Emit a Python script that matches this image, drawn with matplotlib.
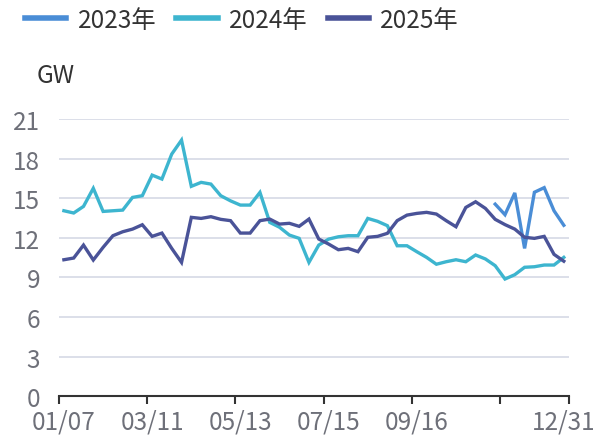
import matplotlib
matplotlib.use("Agg")
import matplotlib.pyplot as plt

plt.rcParams['font.family'] = ['Noto Sans CJK SC', 'DejaVu Sans']

# Категории (недели)
weeks = ['01/07', '01/14', '01/21', '01/28', '02/04', '02/11', '02/18', '02/25',
         '03/04', '03/11', '03/18', '03/25', '04/01', '04/08', '04/15', '04/22',
         '04/29', '05/06', '05/13', '05/20', '05/27', '06/03', '06/10', '06/17',
         '06/24', '07/01', '07/08', '07/15', '07/22', '07/29', '08/05', '08/12',
         '08/19', '08/26', '09/02', '09/09', '09/16', '09/23', '09/30', '10/07',
         '10/14', '10/21', '10/28', '11/04', '11/11', '11/18', '11/25', '12/02',
         '12/09', '12/16', '12/23', '12/31']

# 2023 - только последние недели
y2023 = [None] * 44 + [14.55, 13.75, 15.4, 11.2, 15.45, 15.8, 14.05, 12.95]

y2024 = [14.05, 13.88, 14.38, 15.75, 14.0, 14.05, 14.1, 15.06, 15.19, 16.75,
         16.45, 18.34, 19.4, 15.9, 16.2, 16.07, 15.19, 14.8, 14.48, 14.48,
         15.44, 13.17, 12.8, 12.21, 11.96, 10.14, 11.45, 11.9, 12.08, 12.16,
         12.16, 13.47, 13.25, 12.92, 11.4, 11.4, 10.95, 10.52, 10.0, 10.19,
         10.34, 10.19, 10.7, 10.4, 9.89, 8.88, 9.21, 9.77, 9.81, 9.94,
         9.94, 10.52]

y2025 = [10.34, 10.47, 11.45, 10.32, 11.28, 12.16, 12.46, 12.66, 12.99, 12.11,
         12.36, 11.2, 10.14, 13.55, 13.47, 13.6, 13.4, 13.3, 12.36, 12.36,
         13.3, 13.42, 13.04, 13.1, 12.87, 13.42, 11.91, 11.53, 11.1, 11.2,
         10.95, 12.04, 12.11, 12.34, 13.3, 13.72, 13.85, 13.93, 13.8, 13.3,
         12.84, 14.3, 14.73, 14.23, 13.4, 13.0, 12.66, 12.04, 11.96, 12.11,
         10.75, 10.23]

series_names = ['2023年', '2024年', '2025年']
colors = ['#4a8dd6', '#3db5cf', '#4a5398']
shown_labels = [0, 9, 18, 27, 36, 51]
y_ticks = [0, 3, 6, 9, 12, 15, 18, 21]

fig = plt.figure(figsize=(6.02, 4.39), dpi=100)
ax = fig.add_axes([0.098, 0.095, 0.8467, 0.6317])

x = list(range(len(weeks)))
for name, vals, c in zip(series_names, [y2023, y2024, y2025], colors):
    xs = [i for i, v in zip(x, vals) if v is not None]
    vs = [v for v in vals if v is not None]
    ax.plot(xs, vs, color=c, lw=2.4, label=name, solid_joinstyle='miter')

ax.set_xlim(-0.5, len(weeks) - 0.5)
ax.set_ylim(0, 21)

# сетка
ax.set_yticks(y_ticks)
for t in y_ticks[1:]:
    ax.axhline(t, color='#d6d9e5', lw=1.2, zorder=0)

ax.tick_params(axis='y', length=0, pad=13.5, labelsize=17.5, labelcolor='#6e7079')

ax.set_xticks(shown_labels)
ax.set_xticklabels([weeks[i] for i in shown_labels])
ax.tick_params(axis='x', which='major', length=0, pad=9, labelsize=17.5,
               labelcolor='#6e7079')
ax.set_xticks([b - 0.5 for b in [0, 9, 18, 27, 36, 45, 52]], minor=True)
ax.tick_params(axis='x', which='minor', length=6, width=1.5, color='#333333',
               direction='out')

for s in ['top', 'right', 'left']:
    ax.spines[s].set_visible(False)
ax.spines['bottom'].set_color('#333333')
ax.spines['bottom'].set_linewidth(1.5)

fig.text(37 / 602, 1 - 76 / 439, 'GW', ha='left', va='center', fontsize=17.5,
         color='#333333')

leg = fig.legend(loc='center left', bbox_to_anchor=(25 / 602, 1 - 21 / 439),
                 ncol=3, frameon=False, fontsize=17.5, handlelength=1.7,
                 handletextpad=0.46, columnspacing=0.83, borderpad=0,
                 borderaxespad=0)
for line in leg.get_lines():
    line.set_linewidth(4)
for t in leg.get_texts():
    t.set_color('#333333')

fig.savefig('out.png', dpi=100)
